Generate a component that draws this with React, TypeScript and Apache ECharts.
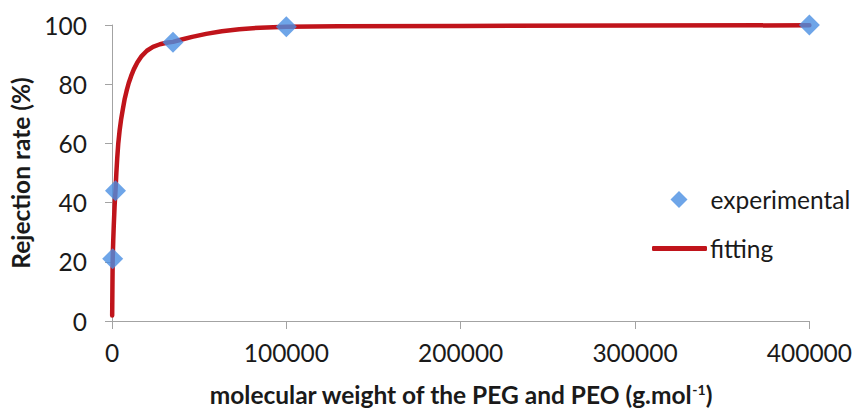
import React, { useEffect, useRef } from "react";
import * as echarts from "echarts";

const expX = [400, 2000, 35000, 100000, 400000];
const expY = [21, 44, 94.2, 99.4, 100];

const fitX = [100, 250, 400, 700, 1000, 1500, 2000, 2500, 3000, 3600, 4400, 5200, 6200, 7200, 8400, 9600, 11000, 12500, 14500, 17000, 20000, 23500, 27500, 32000, 35000, 40000, 46000, 54000, 63000, 73000, 85000, 100000, 130000, 200000, 300000, 400000];
const fitY = [1.9, 12, 21, 27, 32, 39, 44, 50, 55, 60, 64.5, 68, 71.5, 74.8, 77.8, 80.4, 82.8, 85, 87.3, 89.5, 91.3, 92.6, 93.5, 94.1, 94.3, 95.1, 96, 97, 97.9, 98.6, 99.1, 99.4, 99.6, 99.7, 99.8, 99.9];

const yTicks = [0, 20, 40, 60, 80, 100];
const xTicks = [0, 100000, 200000, 300000, 400000];

const FONT = "Lato";
const FS = 24.5;
const BLUE = "#4a8fe2";
const RED = "#c0141b";
const AXIS = "#a3a3a3";
const INK = "#1a1a1a";

export default function App() {
  const ref = useRef<HTMLDivElement>(null);
  useEffect(() => {
    if (!ref.current) return;
    const chart = echarts.init(ref.current, undefined, { renderer: "svg" });
    chart.setOption({
      animation: false,
      textStyle: { fontFamily: FONT, color: INK },
      grid: { left: 112, right: 42, top: 25, bottom: 88 },
      legend: [
        {
          orient: "vertical",
          left: 670.5,
          top: 187,
          padding: 0,
          itemWidth: 17,
          itemHeight: 17,
          symbolKeepAspect: true,
          textStyle: { fontFamily: FONT, fontSize: FS, color: INK, padding: [0, 0, 0, 18] },
          data: [{ name: "experimental", icon: "diamond" }],
        },
        {
          orient: "vertical",
          left: 652,
          top: 236,
          padding: 0,
          itemWidth: 55,
          itemHeight: 5,
          textStyle: { fontFamily: FONT, fontSize: FS, color: INK, padding: [0, 0, 0, -2] },
          data: [{ name: "fitting", icon: "roundRect" }],
        },
      ],
      xAxis: {
        type: "value",
        min: xTicks[0],
        max: xTicks[xTicks.length - 1],
        interval: 100000,
        name: "molecular weight of the PEG and PEO (g.mol{sup|-1})",
        nameLocation: "middle",
        nameGap: 61,
        nameTextStyle: {
          fontFamily: FONT,
          fontSize: FS,
          fontWeight: "bold",
          color: INK,
          rich: {
            sup: { fontFamily: FONT, fontSize: 14, fontWeight: "bold", verticalAlign: "top", padding: [0, 0, 9, 0], color: INK },
          },
        },
        axisLine: { show: true, lineStyle: { color: AXIS, width: 1 } },
        axisTick: { show: true, length: 8, lineStyle: { color: AXIS } },
        axisLabel: { fontFamily: FONT, fontSize: FS, color: INK, margin: 19, formatter: (v: number) => String(v) },
        splitLine: { show: false },
      },
      yAxis: {
        type: "value",
        min: yTicks[0],
        max: yTicks[yTicks.length - 1],
        interval: 20,
        name: "Rejection rate (%)",
        nameLocation: "middle",
        nameGap: 74,
        nameTextStyle: { fontFamily: FONT, fontSize: FS, fontWeight: "bold", color: INK },
        axisLine: { show: true, lineStyle: { color: AXIS, width: 1 } },
        axisTick: { show: true, length: 7, lineStyle: { color: AXIS } },
        axisLabel: { fontFamily: FONT, fontSize: FS, color: INK, margin: 25 },
        splitLine: { show: false },
      },
      series: [
        {
          name: "fitting",
          type: "line",
          data: fitX.map((x, i) => [x, fitY[i]]),
          showSymbol: false,
          symbol: "none",
          smooth: false,
          lineStyle: { color: RED, width: 4.5, join: "round", cap: "round" },
          itemStyle: { color: RED },
          z: 2,
        },
        {
          name: "experimental",
          type: "scatter",
          data: expX.map((x, i) => [x, expY[i]]),
          symbol: "diamond",
          symbolSize: 21,
          itemStyle: { color: BLUE },
          z: 3,
        },
      ],
    });
    return () => chart.dispose();
  }, []);
  return <div ref={ref} style={{ width: 855, height: 412, position: "absolute", left: 0, top: 0 }} />;
}
